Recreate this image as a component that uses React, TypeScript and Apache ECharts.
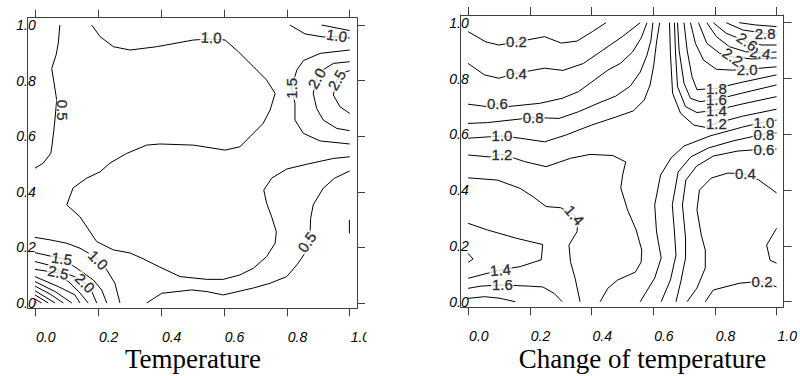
import React, { useEffect, useRef } from "react";
import * as echarts from "echarts";

// ---------- tick labels ----------
const tickValues = [0, 0.2, 0.4, 0.6, 0.8, 1.0];

// ---------- Panel 1: Temperature (contour pieces, [x, y]) ----------
const tempC05a = [[0.079, 1.0], [0.074, 0.934], [0.067, 0.892], [0.053, 0.844], [0.059, 0.802], [0.064, 0.766], [0.069, 0.73], [0.065, 0.68], [0.06, 0.622], [0.053, 0.558], [0.05, 0.538], [0.026, 0.503], [0.0, 0.485]];
const tempC10a = [[0.18, 1.0], [0.207, 0.958], [0.249, 0.922], [0.302, 0.91], [0.387, 0.922], [0.503, 0.946], [0.56, 0.95], [0.604, 0.946], [0.646, 0.904], [0.694, 0.85], [0.736, 0.802], [0.763, 0.754], [0.747, 0.694], [0.725, 0.646], [0.683, 0.598], [0.651, 0.562], [0.604, 0.55], [0.503, 0.568], [0.397, 0.572], [0.355, 0.568], [0.291, 0.538], [0.238, 0.503], [0.207, 0.472], [0.164, 0.449], [0.121, 0.414], [0.101, 0.353], [0.143, 0.31], [0.196, 0.221], [0.249, 0.191], [0.302, 0.18], [0.34, 0.161], [0.397, 0.129], [0.461, 0.095], [0.546, 0.085], [0.598, 0.085], [0.651, 0.101], [0.694, 0.125], [0.736, 0.167], [0.763, 0.215], [0.767, 0.256], [0.752, 0.31], [0.736, 0.359], [0.727, 0.406], [0.752, 0.449], [0.8, 0.482], [0.863, 0.499], [0.948, 0.52], [1.0, 0.526]];
const tempC05b = [[1.0, 0.475], [0.952, 0.449], [0.916, 0.413], [0.884, 0.353], [0.876, 0.305], [0.874, 0.255], [0.864, 0.219], [0.858, 0.179], [0.832, 0.137], [0.8, 0.095], [0.747, 0.071], [0.694, 0.054], [0.598, 0.029], [0.546, 0.041], [0.498, 0.047], [0.403, 0.035], [0.355, 0.0]];
const tempC05c = [[0.999, 0.299], [0.999, 0.251]];
const tempC10b = [[0.0, 0.236], [0.048, 0.227], [0.101, 0.215], [0.143, 0.197], [0.175, 0.176], [0.201, 0.155], [0.228, 0.119], [0.254, 0.071], [0.27, 0.0]];
const tempC15a = [[0.0, 0.181], [0.048, 0.169], [0.085, 0.16], [0.133, 0.125], [0.185, 0.083], [0.212, 0.047], [0.228, 0.0]];
const tempC20a = [[0.0, 0.149], [0.042, 0.137], [0.079, 0.115], [0.127, 0.094], [0.159, 0.072], [0.181, 0.04], [0.196, 0.0]];
const tempC25a = [[0.0, 0.121], [0.074, 0.108], [0.111, 0.072], [0.143, 0.036], [0.169, 0.0]];
const tempC30a = [[0.0, 0.095], [0.074, 0.059], [0.127, 0.029], [0.143, 0.0]];
const tempC35a = [[0.0, 0.077], [0.064, 0.041], [0.117, 0.0]];
const tempC40a = [[0.0, 0.061], [0.048, 0.032], [0.09, 0.0]];
const tempC45a = [[0.0, 0.044], [0.035, 0.02], [0.064, 0.0]];
const tempC50a = [[0.0, 0.029], [0.042, 0.0]];
const tempC55a = [[0.0, 0.014], [0.021, 0.0]];
const tempC60a = [[0.0, 0.003], [0.005, 0.0]];
const tempC10c = [[0.81, 1.0], [0.858, 0.968], [0.915, 0.957], [0.959, 0.958], [1.0, 0.953]];
const tempC10d = [[0.911, 1.0], [1.0, 0.98]];
const tempC15b = [[1.0, 0.91], [0.906, 0.898], [0.853, 0.872], [0.832, 0.838], [0.815, 0.772], [0.826, 0.719], [0.826, 0.658], [0.853, 0.61], [0.906, 0.583], [1.0, 0.572]];
const tempC20b = [[1.0, 0.868], [0.948, 0.862], [0.91, 0.835], [0.895, 0.808], [0.884, 0.754], [0.895, 0.7], [0.916, 0.658], [0.959, 0.628], [1.0, 0.62]];
const tempC25b = [[1.0, 0.836], [0.975, 0.826], [0.959, 0.802], [0.948, 0.748], [0.969, 0.706], [1.0, 0.682]];

const tempContours = [tempC05a, tempC10a, tempC05b, tempC05c, tempC10b, tempC15a, tempC20a, tempC25a, tempC30a, tempC35a, tempC40a, tempC45a, tempC50a, tempC55a, tempC60a, tempC10c, tempC10d, tempC15b, tempC20b, tempC25b];

// [x, y, text, rotation]
const tempLabels: [number, number, string, number][] = [
  [0.088, 0.694, "0.5", -90],
  [0.56, 0.955, "1.0", -3],
  [0.959, 0.962, "1.0", -8],
  [0.815, 0.772, "1.5", 90],
  [0.895, 0.808, "2.0", 60],
  [0.959, 0.802, "2.5", 60],
  [0.864, 0.219, "0.5", 55],
  [0.201, 0.155, "1.0", -45],
  [0.085, 0.16, "1.5", -8],
  [0.159, 0.072, "2.0", -45],
  [0.074, 0.11, "2.5", -12],
];

// ---------- Panel 2: Change of temperature ----------
const chgC02a = [[0.0, 0.968], [0.058, 0.931], [0.1, 0.92], [0.157, 0.931], [0.248, 0.95], [0.302, 0.927], [0.353, 0.934], [0.403, 0.968], [0.447, 1.0]];
const chgC04a = [[0.0, 0.854], [0.053, 0.813], [0.1, 0.801], [0.157, 0.819], [0.248, 0.837], [0.308, 0.829], [0.374, 0.854], [0.437, 0.902], [0.5, 0.95], [0.558, 1.0]];
const chgC06a = [[0.0, 0.708], [0.063, 0.699], [0.095, 0.71], [0.125, 0.699], [0.232, 0.711], [0.305, 0.729], [0.358, 0.753], [0.41, 0.795], [0.453, 0.83], [0.495, 0.855], [0.533, 0.895], [0.561, 0.945], [0.58, 1.0]];
const chgC08a = [[0.0, 0.639], [0.063, 0.642], [0.211, 0.66], [0.295, 0.657], [0.358, 0.681], [0.421, 0.711], [0.479, 0.737], [0.526, 0.773], [0.558, 0.823], [0.58, 0.884], [0.593, 0.938], [0.599, 1.0]];
const chgC10a = [[0.0, 0.586], [0.11, 0.594], [0.169, 0.586], [0.248, 0.573], [0.316, 0.597], [0.4, 0.633], [0.479, 0.662], [0.536, 0.684], [0.571, 0.723], [0.59, 0.777], [0.602, 0.848], [0.611, 0.931], [0.621, 1.0]];
const chgC12a = [[0.0, 0.526], [0.069, 0.519], [0.11, 0.529], [0.184, 0.502], [0.253, 0.484], [0.332, 0.514], [0.395, 0.528], [0.469, 0.524], [0.511, 0.501], [0.501, 0.454], [0.495, 0.408], [0.517, 0.329], [0.545, 0.257], [0.563, 0.185], [0.561, 0.142], [0.542, 0.106], [0.485, 0.078], [0.453, 0.048], [0.428, 0.0]];
const chgC14a = [[0.0, 0.444], [0.095, 0.436], [0.169, 0.406], [0.211, 0.376], [0.253, 0.341], [0.3, 0.337], [0.345, 0.31], [0.356, 0.285], [0.353, 0.251], [0.327, 0.203], [0.332, 0.143], [0.347, 0.084], [0.363, 0.0]];
const chgC14b = [[0.0, 0.281], [0.063, 0.257], [0.158, 0.227], [0.242, 0.205], [0.237, 0.15], [0.169, 0.126], [0.105, 0.114], [0.0, 0.084]];
const chgC16a = [[0.0, 0.048], [0.042, 0.056], [0.111, 0.06], [0.195, 0.056], [0.242, 0.053], [0.279, 0.03], [0.305, 0.0]];
const chgC18a = [[0.0, 0.012], [0.053, 0.018], [0.1, 0.013], [0.153, 0.0]];
const chgC12c = [[0.0, 0.173], [0.016, 0.153], [0.0, 0.141]];
const chgC12b = [[0.653, 1.0], [0.656, 0.89], [0.663, 0.747], [0.689, 0.675], [0.732, 0.633], [0.769, 0.625], [0.805, 0.64], [0.89, 0.665], [1.0, 0.69]];
const chgC14c = [[0.669, 1.0], [0.672, 0.902], [0.679, 0.771], [0.705, 0.699], [0.742, 0.678], [0.805, 0.687], [0.89, 0.709], [1.0, 0.735]];
const chgC16b = [[0.679, 1.0], [0.684, 0.902], [0.7, 0.783], [0.721, 0.729], [0.752, 0.717], [0.805, 0.725], [0.89, 0.748], [1.0, 0.777]];
const chgC18b = [[0.7, 1.0], [0.71, 0.902], [0.726, 0.806], [0.742, 0.76], [0.805, 0.765], [0.89, 0.787], [1.0, 0.813]];
const chgC20b = [[0.721, 1.0], [0.737, 0.926], [0.763, 0.866], [0.805, 0.833], [0.858, 0.83], [0.905, 0.833], [1.0, 0.842]];
const chgC22b = [[0.747, 1.0], [0.774, 0.926], [0.816, 0.89], [0.858, 0.877], [0.921, 0.87], [1.0, 0.874]];
const chgC24b = [[0.774, 1.0], [0.805, 0.95], [0.847, 0.914], [0.9, 0.896], [0.947, 0.892], [1.0, 0.895]];
const chgC26b = [[0.795, 1.0], [0.837, 0.962], [0.905, 0.932], [0.953, 0.92], [1.0, 0.92]];
const chgC28b = [[0.837, 1.0], [0.89, 0.974], [0.963, 0.962], [1.0, 0.959]];
const chgC30b = [[0.879, 1.0], [0.931, 0.992], [1.0, 0.986]];
const chgC10b = [[1.0, 0.651], [0.959, 0.644], [0.89, 0.626], [0.784, 0.594], [0.7, 0.558], [0.658, 0.515], [0.624, 0.454], [0.605, 0.347], [0.611, 0.25], [0.626, 0.157], [0.605, 0.085], [0.558, 0.0]];
const chgC08b = [[1.0, 0.605], [0.959, 0.601], [0.858, 0.576], [0.779, 0.551], [0.722, 0.519], [0.681, 0.465], [0.662, 0.347], [0.669, 0.25], [0.674, 0.167], [0.656, 0.078], [0.626, 0.0]];
const chgC06b = [[1.0, 0.547], [0.959, 0.547], [0.874, 0.54], [0.795, 0.522], [0.741, 0.486], [0.706, 0.436], [0.695, 0.347], [0.705, 0.228], [0.705, 0.157], [0.69, 0.074], [0.674, 0.0]];
const chgC04b = [[1.0, 0.39], [0.943, 0.436], [0.899, 0.458], [0.842, 0.461], [0.788, 0.443], [0.75, 0.4], [0.742, 0.329], [0.756, 0.239], [0.769, 0.185], [0.769, 0.121], [0.742, 0.049], [0.71, 0.0]];
const chgC02b = [[0.769, 0.0], [0.795, 0.042], [0.879, 0.066], [0.953, 0.074], [1.0, 0.053]];
const chgC02c = [[1.0, 0.263], [0.968, 0.203], [0.979, 0.149], [1.0, 0.138]];

const chgContours = [chgC02a, chgC04a, chgC06a, chgC08a, chgC10a, chgC12a, chgC14a, chgC14b, chgC16a, chgC18a, chgC12c, chgC12b, chgC14c, chgC16b, chgC18b, chgC20b, chgC22b, chgC24b, chgC26b, chgC28b, chgC30b, chgC10b, chgC08b, chgC06b, chgC04b, chgC02b, chgC02c];

const chgLabels: [number, number, string, number][] = [
  [0.157, 0.931, "0.2", 0],
  [0.157, 0.819, "0.4", 0],
  [0.095, 0.71, "0.6", 0],
  [0.211, 0.66, "0.8", 0],
  [0.11, 0.594, "1.0", 0],
  [0.11, 0.529, "1.2", 0],
  [0.345, 0.31, "1.4", -50],
  [0.105, 0.114, "1.4", 5],
  [0.111, 0.06, "1.6", 0],
  [0.805, 0.64, "1.2", 0],
  [0.805, 0.687, "1.4", 0],
  [0.805, 0.725, "1.6", 0],
  [0.805, 0.765, "1.8", 0],
  [0.905, 0.833, "2.0", 0],
  [0.858, 0.877, "2.2", -35],
  [0.947, 0.892, "2.4", -10],
  [0.905, 0.932, "2.6", -35],
  [0.963, 0.962, "2.8", 0],
  [0.959, 0.644, "1.0", 0],
  [0.959, 0.601, "0.8", 0],
  [0.959, 0.547, "0.6", 0],
  [0.899, 0.458, "0.4", 0],
  [0.953, 0.074, "0.2", 0],
];

const axisColor = "#404040";
const sansFont = "'Liberation Sans', Arial, sans-serif";

function makeXAxes(gridIndex: number, min: number, max: number) {
  const common = {
    type: "value" as const,
    gridIndex,
    min,
    max,
    splitLine: { show: false },
    axisLine: { show: true, onZero: false, lineStyle: { color: axisColor, width: 1 } },
    axisTick: { show: true, inside: false, length: 8, customValues: tickValues, lineStyle: { color: axisColor } },
  };
  return [
    {
      ...common,
      position: "bottom",
      axisLabel: {
        show: true,
        customValues: tickValues,
        formatter: (v: number) => v.toFixed(1),
        margin: 22,
        align: "left",
        padding: [0, 0, 0, 1],
        fontStyle: "italic",
        fontFamily: sansFont,
        fontSize: 14,
        color: "#000",
      },
    },
    { ...common, position: "top", axisLabel: { show: false } },
  ];
}

function makeYAxes(gridIndex: number, min: number, max: number) {
  const common = {
    type: "value" as const,
    gridIndex,
    min,
    max,
    splitLine: { show: false },
    axisLine: { show: true, onZero: false, lineStyle: { color: axisColor, width: 1 } },
  };
  return [
    {
      ...common,
      position: "left",
      axisTick: { show: false },
      axisLabel: {
        show: true,
        customValues: tickValues,
        formatter: (v: number) => v.toFixed(1),
        margin: -8,
        padding: [3, 0, 0, 0],
        fontStyle: "italic",
        fontFamily: sansFont,
        fontSize: 14,
        color: "#000",
      },
    },
    {
      ...common,
      position: "right",
      axisTick: { show: true, inside: false, length: 8, customValues: tickValues, lineStyle: { color: axisColor } },
      axisLabel: { show: false },
    },
  ];
}

function contourSeries(lines: number[][][], axisIdx: number) {
  return lines.map((pts) => ({
    type: "line",
    xAxisIndex: axisIdx,
    yAxisIndex: axisIdx,
    data: pts,
    showSymbol: false,
    symbol: "none",
    silent: true,
    clip: true,
    z: 2,
    lineStyle: { color: "#000", width: 1 },
    emphasis: { disabled: true },
  }));
}

function labelSeries(labels: [number, number, string, number][], axisIdx: number) {
  return {
    type: "scatter",
    xAxisIndex: axisIdx,
    yAxisIndex: axisIdx,
    symbolSize: 0,
    silent: true,
    z: 5,
    itemStyle: { color: "#000" },
    emphasis: { disabled: true },
    data: labels.map(([x, y, t, r]) => ({ value: [x, y], name: t, label: { rotate: r } })),
    label: {
      show: true,
      position: "inside",
      formatter: "{b}",
      fontFamily: sansFont,
      fontSize: 15,
      color: "#000",
      textBorderColor: "#000",
      textBorderWidth: 0.35,
      backgroundColor: "#fff",
      lineHeight: 12,
      padding: [0, 1],
    },
  };
}

export default function App() {
  const ref = useRef<HTMLDivElement>(null);
  useEffect(() => {
    document.body.style.margin = "0";
    if (!ref.current) return;
    const chart = echarts.init(ref.current, undefined, { renderer: "svg" });
    const option = {
      animation: false,
      backgroundColor: "#fff",
      grid: [
        { left: 27.7, top: 17.7, width: 329.3, height: 290.6 },
        { left: 460.7, top: 15, width: 331.6, height: 292.3 },
      ],
      xAxis: [...makeXAxes(0, -0.0232, 1.0232), ...makeXAxes(1, -0.024, 1.023)],
      yAxis: [...makeYAxes(0, -0.0191, 1.0263), ...makeYAxes(1, -0.02, 1.0276)],
      series: [
        ...contourSeries(tempContours, 0),
        labelSeries(tempLabels, 0),
        ...contourSeries(chgContours, 2),
        labelSeries(chgLabels, 2),
      ],
      graphic: [
        {
          type: "rect",
          z: 100,
          shape: { x: 366.5, y: 318, width: 24, height: 30 },
          style: { fill: "#fff" },
        },
        {
          type: "text",
          z: 100,
          x: 193,
          y: 359,
          style: {
            text: "Temperature",
            font: "27px 'Liberation Serif', 'Times New Roman', serif",
            fill: "#000",
            align: "center",
            textAlign: "center",
            verticalAlign: "middle",
            textVerticalAlign: "middle",
          },
        },
        {
          type: "text",
          z: 100,
          x: 642.5,
          y: 359,
          style: {
            text: "Change of temperature",
            font: "27px 'Liberation Serif', 'Times New Roman', serif",
            fill: "#000",
            align: "center",
            textAlign: "center",
            verticalAlign: "middle",
            textVerticalAlign: "middle",
          },
        },
      ],
    };
    chart.setOption(option as any);
    return () => chart.dispose();
  }, []);
  return <div ref={ref} style={{ width: 800, height: 376 }} />;
}
